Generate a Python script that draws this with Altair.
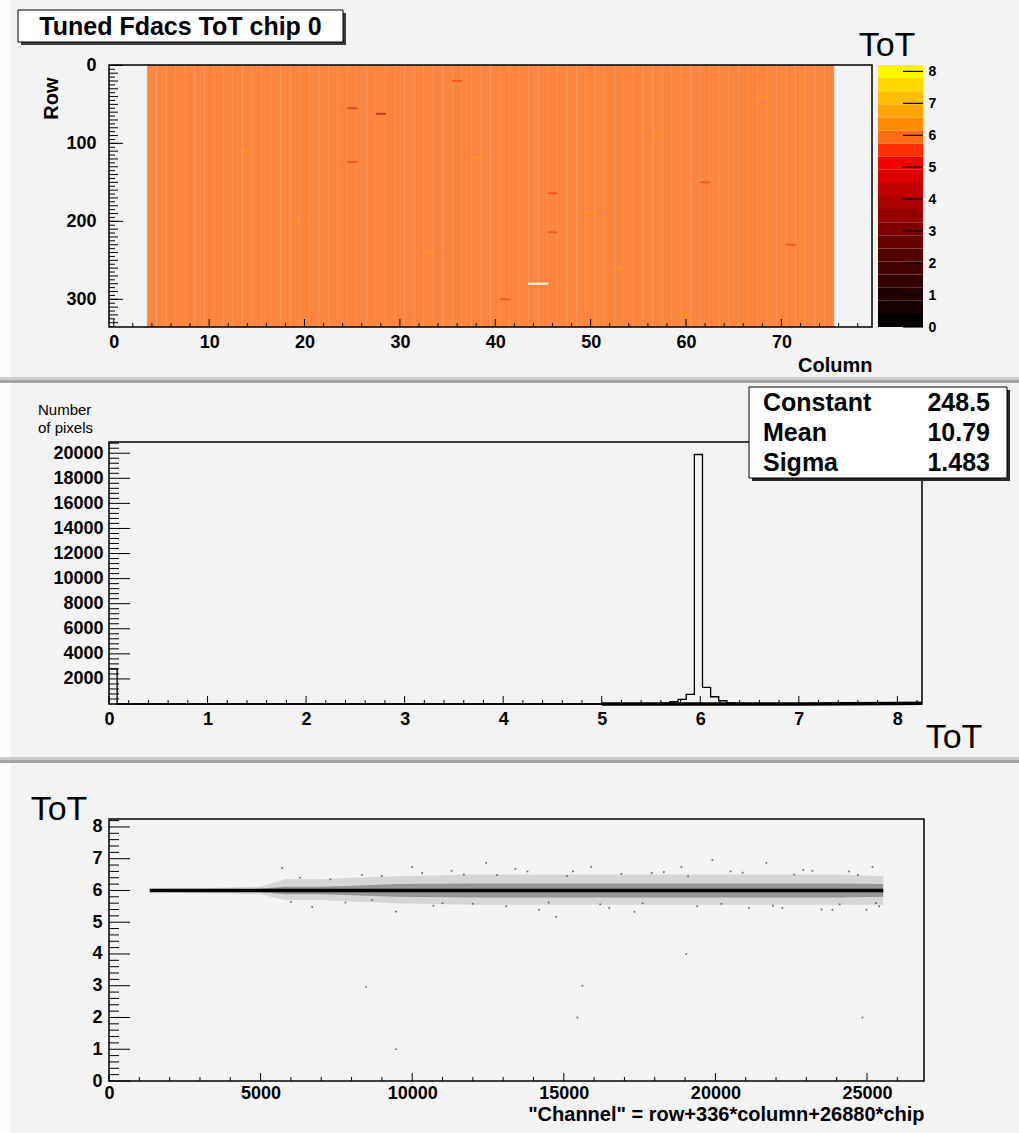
import altair as alt
import pandas as pd

FONT = "Liberation Sans"
PAD_BG = "#f3f3f3"
EDGE_HI = "#fcfcfc"
SEP_A = "#cbcbcb"
SEP_B = "#a4a4a4"

# ===================== values =====================
# ---- panel 1 : Tuned Fdacs ToT map, chip 0
n_columns = 80
n_rows = 336
map_columns = list(range(4, 76))
bulk_tot = 6.0
odd_col = [28, 25, 25, 46, 46, 38, 50, 33, 57, 62, 19, 41, 68, 53, 36, 60, 14, 71]
odd_row = [62, 55, 124, 164, 214, 118, 188, 240, 90, 150, 200, 300, 40, 260, 20, 320, 110, 230]
odd_tot = [3.0, 4.8, 5.6, 5.6, 5.6, 6.8, 6.8, 6.6, 6.6, 5.6, 6.6, 5.6, 6.6, 6.6, 5.6, 6.6, 6.6, 5.6]
dead_col = [44, 45]
dead_row = [280, 280]
palette_edges = [0.0, 0.41, 0.82, 1.23, 1.64, 2.05, 2.46, 2.87, 3.28, 3.69, 4.10,
                 4.51, 4.92, 5.33, 5.74, 6.15, 6.56, 6.97, 7.38, 7.79, 8.20]
palette_colors = ["#050000", "#140000", "#220000", "#320000", "#420000", "#550000",
                  "#690000", "#7f0000", "#950000", "#ab0000", "#c30000", "#db0000",
                  "#f30000", "#ff3000", "#ff6a12", "#ff8a00", "#ffa400", "#ffbe00",
                  "#ffd800", "#fff500"]
column_labels = [0, 10, 20, 30, 40, 50, 60, 70]
column_minor = [2, 4, 6, 8, 12, 14, 16, 18, 22, 24, 26, 28, 32, 34, 36, 38, 42, 44, 46, 48,
                52, 54, 56, 58, 62, 64, 66, 68, 72, 74, 76, 78]
row_labels = [0, 100, 200, 300]
row_ticks_10 = list(range(0, 336, 10))
row_ticks_5 = list(range(5, 336, 10))
tot_labels = [0, 1, 2, 3, 4, 5, 6, 7, 8]

# ---- panel 2 : ToT distribution
hist_bin_width = 0.0825
hist_n_bins = 100
hist_xmax = 8.25
hist_bins = [0, 67, 68, 69, 70, 71, 72, 73, 74, 75, 76, 77, 78]
hist_counts = [2800, 25, 60, 180, 370, 770, 19900, 1330, 580, 260, 90, 40, 15]
hist_ymax = 20895
fit_x = [5.0, 5.5, 6.0, 6.5, 7.0, 7.5, 8.0, 8.25]
fit_y = [0.1, 0.5, 1.4, 3.8, 9.5, 21, 42, 57]
stat_names = ["Constant", "Mean", "Sigma"]
stat_values = ["248.5", "10.79", "1.483"]
hist_x_labels = [0, 1, 2, 3, 4, 5, 6, 7, 8]
hist_x_minor = [round(0.2 * i, 1) for i in range(1, 42) if i % 5]
hist_y_labels = [2000, 4000, 6000, 8000, 10000, 12000, 14000, 16000, 18000, 20000]
hist_y_minor = [400 * i for i in range(1, 53) if i % 5]

# ---- panel 3 : ToT per channel
n_channels = 26880
chan_first = 1344
chan_last = 25535
core_tot = 6.0
band_ch = [1344, 3000, 5000, 5800, 7000, 8000, 9500, 12000, 15000, 18000, 21000, 24000, 25535]
outer_hi = [6.05, 6.07, 6.12, 6.35, 6.35, 6.40, 6.45, 6.50, 6.50, 6.50, 6.50, 6.50, 6.45]
outer_lo = [5.95, 5.93, 5.88, 5.70, 5.70, 5.65, 5.60, 5.55, 5.55, 5.55, 5.55, 5.55, 5.55]
inner_hi = [6.02, 6.03, 6.05, 6.12, 6.12, 6.15, 6.20, 6.22, 6.22, 6.22, 6.22, 6.22, 6.20]
inner_lo = [5.98, 5.97, 5.95, 5.88, 5.88, 5.85, 5.80, 5.78, 5.78, 5.78, 5.78, 5.78, 5.80]
stray_ch = [5710, 6000, 6700, 7300, 8350, 8680, 9470, 10000, 10330, 11000, 11700, 12440,
            13100, 13800, 14190, 14750, 15300, 15900, 16500, 17330, 17900, 18880, 19400,
            19900, 20500, 21100, 21680, 22210, 22900, 23500, 23860, 24400, 24980, 25180,
            25400, 6300, 7800, 9000, 10700, 11300, 12000, 12800, 13400, 14500, 15100,
            16200, 16900, 17600, 18300, 19100, 20200, 20900, 21900, 22600, 23200, 24100,
            24700, 25300, 8480, 9470, 15610, 15450, 19040, 24850]
stray_tot = [6.70, 5.64, 5.48, 6.35, 6.49, 5.70, 5.33, 6.74, 6.55, 5.60, 6.50, 6.87,
             5.50, 6.60, 5.39, 5.17, 6.60, 6.74, 5.45, 5.33, 6.55, 6.74, 5.50,
             6.96, 6.60, 5.45, 6.87, 5.45, 6.65, 5.40, 5.39, 6.60, 5.39, 6.74,
             5.50, 6.40, 5.62, 6.45, 5.52, 6.62, 5.58, 6.48, 6.68, 5.62, 6.45,
             5.56, 6.52, 5.60, 6.58, 6.44, 5.58, 6.56, 5.52, 6.50, 6.62, 5.56,
             6.48, 5.60, 2.96, 1.00, 3.00, 2.00, 4.00, 2.00]
chan_labels = [0, 5000, 10000, 15000, 20000, 25000]
chan_minor = [1000 * i for i in range(1, 27) if i % 5]
tot_minor = [round(0.2 * i, 1) for i in range(1, 42) if i % 5]

# ===================== layout (pixels) =====================
LEFT = 109
TW, TH = 763, 262
MW, MH = 813, 262
BW, BH = 815, 262
GAP = 115
CANVAS_W = 1019
CB_L, CB_R = 769, 814

dummy = pd.DataFrame({"k": [0]})


def rect_px(x0, x1, y0, y1, fill, **kw):
    return alt.Chart(dummy).mark_rect(fill=fill, **kw).encode(
        x=alt.value(x0), x2=alt.value(x1), y=alt.value(y0), y2=alt.value(y1))


def text_px(x, y, text, **kw):
    return alt.Chart(dummy).mark_text(font=FONT, color="black", **kw).encode(
        x=alt.value(x), y=alt.value(y), text=alt.value(text))


def frame(w, h):
    return rect_px(0, w, 0, h, "#ffffff", fillOpacity=0, stroke="black", strokeWidth=1.5)


def pad_background(top, bottom, sep):
    layers = [rect_px(-LEFT, CANVAS_W - LEFT, top, bottom, PAD_BG),
              rect_px(-LEFT, -LEFT + 11, top, bottom, EDGE_HI)]
    if sep:
        layers.append(rect_px(-LEFT, CANVAS_W - LEFT, bottom, bottom + 3, SEP_A))
        layers.append(rect_px(-LEFT, CANVAS_W - LEFT, bottom + 3, bottom + 6, SEP_B))
    return layers


def xticks(values, length, X, h):
    return alt.Chart(pd.DataFrame({"v": values})).mark_rule(color="black", strokeWidth=1).encode(
        x=X("v"), y=alt.value(h), y2=alt.value(h - length))


def yticks(values, length, Y):
    return alt.Chart(pd.DataFrame({"v": values})).mark_rule(color="black", strokeWidth=1).encode(
        y=Y("v"), x=alt.value(0), x2=alt.value(length))


tot_color = alt.Scale(type="threshold", domain=palette_edges[1:-1], range=palette_colors)

AX = dict(zindex=1, grid=False, ticks=False, domain=False, labelFlush=False, labelOverlap=False)

# ===================== panel 1 =====================
top_x_scale = alt.Scale(domain=[-0.5, n_columns - 0.5], nice=False, zero=False)
top_y_scale = alt.Scale(domain=[-0.5, n_rows - 0.5], reverse=True, nice=False, zero=False)
top_x_axis = alt.Axis(values=column_labels, title="Column", titleX=TW, titleY=38,
                      titleAlign="right", titleBaseline="middle", labelPadding=6, **AX)
top_y_axis = alt.Axis(values=row_labels, title="Row", titleX=-58, titleY=12, titleAngle=270,
                      titleAlign="right", titleBaseline="middle", labelPadding=13, **AX)


def TX(f):
    return alt.X(f"{f}:Q", scale=top_x_scale, axis=top_x_axis)


def TY(f):
    return alt.Y(f"{f}:Q", scale=top_y_scale, axis=top_y_axis)


heat_df = pd.DataFrame({"c0": [c - 0.5 for c in map_columns], "c1": [c + 0.5 for c in map_columns]})
heat_df["r0"] = -0.5
heat_df["r1"] = n_rows - 0.5
heat_df["tot"] = bulk_tot

odd_df = pd.DataFrame({"c0": [c - 0.5 for c in odd_col], "c1": [c + 0.5 for c in odd_col],
                       "r0": [r - 0.5 for r in odd_row], "r1": [r + 0.5 for r in odd_row],
                       "tot": odd_tot})
dead_df = pd.DataFrame({"c0": [c - 0.5 for c in dead_col], "c1": [c + 0.5 for c in dead_col],
                        "r0": [r - 0.5 for r in dead_row], "r1": [r + 0.5 for r in dead_row]})

heat = alt.Chart(heat_df).mark_rect(fillOpacity=0.8, stroke="#fba070", strokeWidth=0.6,
                                    strokeOpacity=0.6).encode(
    x=TX("c0"), x2="c1", y=TY("r0"), y2="r1",
    color=alt.Color("tot:Q", scale=tot_color, legend=None))
odd = alt.Chart(odd_df).mark_rect(strokeWidth=1.0, opacity=0.55).encode(
    x=TX("c0"), x2="c1", y=TY("r0"), y2="r1",
    color=alt.Color("tot:Q", scale=tot_color, legend=None),
    stroke=alt.Stroke("tot:Q", scale=tot_color, legend=None))
dead = alt.Chart(dead_df).mark_rect(fill="#fbf2e8", stroke="#fbf2e8", strokeWidth=1.2).encode(
    x=TX("c0"), x2="c1", y=TY("r0"), y2="r1")

top_main = alt.layer(
    *pad_background(-65, 312, True),
    heat, odd, dead,
    frame(TW, TH),
    xticks(column_labels, 8, TX, TH),
    xticks(column_minor, 4, TX, TH),
    yticks(row_labels, 14, TY),
    yticks(row_ticks_10, 9, TY),
    yticks(row_ticks_5, 6, TY),
    rect_px(-88, 237, -52, -20, "#3a3a3a"),
    rect_px(-91, 234, -55, -23, "#ffffff", stroke="black", strokeWidth=1),
    text_px(71.5, -38, "Tuned Fdacs ToT chip 0", fontSize=25, fontWeight="bold",
            align="center", baseline="middle"),
    text_px(778, -9, "ToT", fontSize=34, align="center", baseline="alphabetic"),
)

cb_df = pd.DataFrame({"lo": palette_edges[:-1], "hi": palette_edges[1:]})
cb_df["tot"] = (cb_df["lo"] + cb_df["hi"]) / 2
cb_scale = alt.Scale(domain=[palette_edges[0], palette_edges[-1]], nice=False, zero=False)
cb_axis = alt.Axis(orient="right", offset=CB_R - TW, values=tot_labels, labelFontSize=14,
                   labelPadding=5, title=None, **AX)
cb_bands = alt.Chart(cb_df).mark_rect().encode(
    x=alt.value(CB_L), x2=alt.value(CB_R),
    y=alt.Y("lo:Q", scale=cb_scale, axis=cb_axis), y2="hi",
    color=alt.Color("tot:Q", scale=tot_color, legend=None))
cb_ticks = alt.Chart(pd.DataFrame({"v": tot_labels})).mark_rule(color="black", strokeWidth=1.2).encode(
    x=alt.value(CB_R - 20), x2=alt.value(CB_R),
    y=alt.Y("v:Q", scale=cb_scale, axis=cb_axis))
cbar = alt.layer(cb_bands, cb_ticks)

top = alt.layer(top_main, cbar).resolve_scale(y="independent").properties(width=TW, height=TH)

# ===================== panel 2 =====================
mid_x_scale = alt.Scale(domain=[0, hist_xmax], nice=False, zero=False)
mid_y_scale = alt.Scale(domain=[0, hist_ymax], nice=False, zero=False)
mid_x_axis = alt.Axis(values=hist_x_labels, title=None, labelPadding=6, format="d", **AX)
mid_y_axis = alt.Axis(values=hist_y_labels, title=None, labelPadding=6, format="d", **AX)


def MX(f):
    return alt.X(f"{f}:Q", scale=mid_x_scale, axis=mid_x_axis)


def MY(f):
    return alt.Y(f"{f}:Q", scale=mid_y_scale, axis=mid_y_axis)


counts_by_bin = dict(zip(hist_bins, hist_counts))
step_df = pd.DataFrame({
    "x": [i * hist_bin_width for i in range(hist_n_bins)] + [hist_xmax],
    "n": [counts_by_bin.get(i, 0) for i in range(hist_n_bins)] + [0],
})
fit_df = pd.DataFrame({"x": fit_x, "n": fit_y})

hist_line = alt.Chart(step_df).mark_line(interpolate="step-after", color="black", strokeWidth=1.3).encode(
    x=MX("x"), y=MY("n"))
fit_line = alt.Chart(fit_df).mark_line(color="black", strokeWidth=3.5).encode(x=MX("x"), y=MY("n"))

mid = alt.layer(
    *pad_background(-59, 315, True),
    hist_line, fit_line,
    frame(MW, MH),
    xticks(hist_x_labels, 8, MX, MH),
    xticks(hist_x_minor, 4, MX, MH),
    yticks(hist_y_labels, 21, MY),
    yticks(hist_y_minor, 10, MY),
    rect_px(643, 901, -52, 39, "#2a2a2a"),
    rect_px(640, 898, -55, 36, "#ffffff", stroke="black", strokeWidth=1),
    text_px(654, -39, stat_names, fontSize=25, fontWeight="bold", align="left",
            baseline="middle", lineHeight=30),
    text_px(881, -39, stat_values, fontSize=25, fontWeight="bold", align="right",
            baseline="middle", lineHeight=30),
    text_px(-71, -32, ["Number", "of pixels"], fontSize=15, align="left",
            baseline="middle", lineHeight=18),
    text_px(845, 306, "ToT", fontSize=34, align="center", baseline="alphabetic"),
).properties(width=MW, height=MH)

# ===================== panel 3 =====================
bot_x_scale = alt.Scale(domain=[0, n_channels], nice=False, zero=False)
bot_y_scale = alt.Scale(domain=[0, hist_xmax], nice=False, zero=False)
bot_x_axis = alt.Axis(values=chan_labels, title='"Channel" = row+336*column+26880*chip',
                      titleX=BW, titleY=33, titleAlign="right", titleBaseline="middle",
                      labelPadding=3, format="d", **AX)
bot_y_axis = alt.Axis(values=tot_labels, title=None, labelPadding=7, format="d", **AX)


def BX(f):
    return alt.X(f"{f}:Q", scale=bot_x_scale, axis=bot_x_axis)


def BY(f):
    return alt.Y(f"{f}:Q", scale=bot_y_scale, axis=bot_y_axis)


band_df = pd.DataFrame({"ch": band_ch, "olo": outer_lo, "ohi": outer_hi,
                        "ilo": inner_lo, "ihi": inner_hi})
stray_df = pd.DataFrame({"ch": stray_ch, "tot": stray_tot})
core_df = pd.DataFrame({"c0": [chan_first], "c1": [chan_last], "tot": [core_tot]})

outer_band = alt.Chart(band_df).mark_area(color="#bdbdbd", opacity=0.55).encode(
    x=BX("ch"), y=BY("olo"), y2="ohi")
inner_band = alt.Chart(band_df).mark_area(color="#6a6a6a", opacity=0.6).encode(
    x=BX("ch"), y=BY("ilo"), y2="ihi")
strays = alt.Chart(stray_df).mark_square(size=3, color="#555555", opacity=0.85).encode(
    x=BX("ch"), y=BY("tot"))
core = alt.Chart(core_df).mark_rule(color="black", strokeWidth=3.5).encode(
    x=BX("c0"), x2="c1", y=BY("tot"))

bot = alt.layer(
    *pad_background(-56, 314, False),
    outer_band, inner_band, strays, core,
    frame(BW, BH),
    xticks(chan_labels, 8, BX, BH),
    xticks(chan_minor, 4, BX, BH),
    yticks(tot_labels, 21, BY),
    yticks(tot_minor, 10, BY),
    text_px(-50, 1, "ToT", fontSize=34, align="center", baseline="alphabetic"),
).properties(width=BW, height=BH)

chart = alt.vconcat(top, mid, bot, spacing=GAP, bounds="flush").properties(
    padding=0, background="#ffffff"
).configure_view(stroke=None).configure_axis(
    labelFont=FONT, labelFontWeight="bold", labelFontSize=18, labelColor="black",
    titleFont=FONT, titleFontWeight="bold", titleFontSize=20, titleColor="black",
)

chart.save("out.html", embed_options={"renderer": "svg", "actions": False})
